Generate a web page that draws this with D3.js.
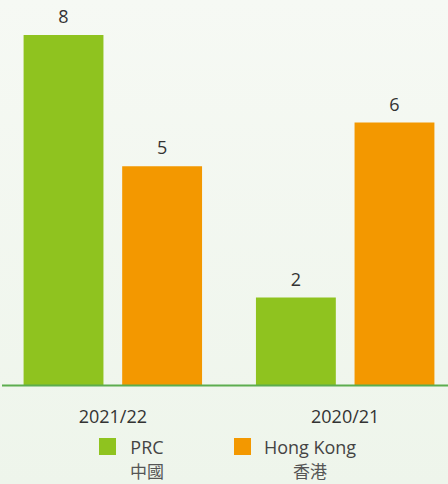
<!DOCTYPE html>
<html>
<head>
<meta charset="utf-8">
<script src="https://cdn.jsdelivr.net/npm/d3@7"></script>
<style>
  html, body { margin: 0; padding: 0; }
  body { width: 448px; height: 484px; overflow: hidden; }
</style>
</head>
<body>
<div id="container"></div>
<script>
let w = 448;
let h = 484;

// data
let years = ["2021/22", "2020/21"];
let seriesKeys = ["PRC", "Hong Kong"];
let seriesZh = ["中國", "香港"];
let prcValues = [8, 2];
let hkValues = [5, 6];

let colors = ["#8fc31f", "#f39800"];

let viz = d3.select("#container")
  .append("svg")
  .attr("width", w)
  .attr("height", h)
;

// background gradient
let grad = viz.append("defs").append("linearGradient")
  .attr("id", "bg")
  .attr("x1", 0).attr("y1", 0).attr("x2", 0).attr("y2", 1);
grad.append("stop").attr("offset", "0%").attr("stop-color", "#f6f9f4");
grad.append("stop").attr("offset", "100%").attr("stop-color", "#eef5eb");

viz.append("rect")
  .attr("width", w)
  .attr("height", h)
  .attr("fill", "url(#bg)");

let rows = years.map((y, i) => ({ year: y, values: [prcValues[i], hkValues[i]] }));

let x0 = d3.scaleBand()
  .domain(years)
  .range([5, 453])
  .paddingInner(0.232)
  .paddingOuter(0.08);

let x1 = d3.scaleBand()
  .domain(seriesKeys)
  .range([0, x0.bandwidth()])
  .paddingInner(0.19)
  .paddingOuter(0);

let y = d3.scaleLinear()
  .domain([0, 8])
  .range([385, 35]);

let groups = viz.selectAll(".group").data(rows).enter()
  .append("g")
  .attr("class", "group")
  .attr("transform", d => "translate(" + x0(d.year) + ",0)");

let cells = groups.selectAll(".bar")
  .data(d => d.values.map((v, i) => ({ key: seriesKeys[i], value: v, i: i })))
  .enter();

cells.append("rect")
  .attr("class", "bar")
  .attr("x", d => x1(d.key))
  .attr("y", d => y(d.value))
  .attr("width", x1.bandwidth())
  .attr("height", d => y(0) - y(d.value))
  .attr("fill", d => colors[d.i]);

cells.append("text")
  .attr("x", d => x1(d.key) + x1.bandwidth() / 2)
  .attr("y", d => y(d.value) - 12)
  .attr("text-anchor", "middle")
  .attr("font-family", "'Open Sans', sans-serif")
  .attr("font-size", 18)
  .attr("fill", "#333")
  .text(d => d.value);

// baseline
viz.append("line")
  .attr("x1", 2)
  .attr("x2", w)
  .attr("y1", y(0) + 0.5)
  .attr("y2", y(0) + 0.5)
  .attr("stroke", "#5cad4f")
  .attr("stroke-width", 2);

// category labels
let xAxis = d3.axisBottom(x0).tickSize(0).tickPadding(0);
let axisG = viz.append("g")
  .attr("transform", "translate(0,423)")
  .call(xAxis);
axisG.select(".domain").remove();
axisG.selectAll("text")
  .attr("dy", "0")
  .attr("font-family", "'Open Sans', sans-serif")
  .attr("font-size", 18)
  .attr("fill", "#333");

// legend
let legendX = [99, 234];
let legend = viz.selectAll(".legend").data(seriesKeys).enter()
  .append("g")
  .attr("class", "legend")
  .attr("transform", (d, i) => "translate(" + legendX[i] + ",438)");

legend.append("rect")
  .attr("width", 17)
  .attr("height", 17)
  .attr("fill", (d, i) => colors[i]);

let textCenters = [48, 76];
legend.append("text")
  .attr("x", (d, i) => textCenters[i])
  .attr("y", 16)
  .attr("text-anchor", "middle")
  .attr("font-family", "'Open Sans', sans-serif")
  .attr("font-size", 18)
  .attr("fill", "#444")
  .text(d => d);

legend.append("text")
  .attr("x", (d, i) => textCenters[i])
  .attr("y", 40)
  .attr("text-anchor", "middle")
  .attr("font-family", "'Noto Sans CJK TC', sans-serif")
  .attr("font-size", 17)
  .attr("fill", "#555")
  .text((d, i) => seriesZh[i]);
</script>
</body>
</html>
